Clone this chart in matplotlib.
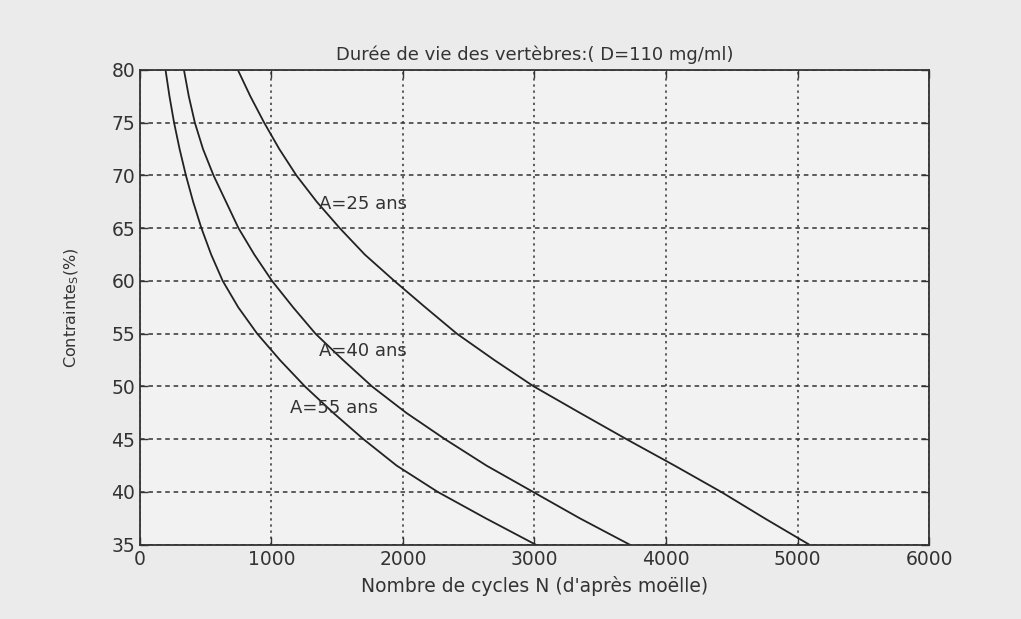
import matplotlib
matplotlib.use('Agg')
import matplotlib.pyplot as plt

plt.rcParams['font.family'] = ['DejaVu Sans']

# contrainte (%) levels read on the grid
stress = [80, 77.5, 75, 72.5, 70, 67.5, 65, 62.5, 60, 57.5, 55,
          52.5, 50, 47.5, 45, 42.5, 40, 37.5, 35]

# number of cycles for each age
n_25 = [745, 840, 945, 1060, 1190, 1345, 1520, 1710, 1935, 2170, 2410,
        2695, 2995, 3345, 3700, 4065, 4420, 4750, 5090]
n_40 = [335, 372, 418, 480, 560, 655, 750, 870, 1005, 1165, 1335,
        1545, 1765, 2025, 2320, 2635, 2990, 3345, 3725]
n_55 = [195, 225, 260, 302, 350, 405, 468, 542, 630, 748, 892,
        1065, 1255, 1470, 1700, 1952, 2265, 2630, 3010]

labels = ['A=25 ans', 'A=40 ans', 'A=55 ans']
label_pos = [(1360, 67.3), (1360, 53.4), (1140, 48.0)]

txt_col = '#333333'

fig = plt.figure(figsize=(10.21, 6.19), dpi=100, facecolor='#ebebeb')
ax = fig.add_axes([0.137, 0.12, 0.773, 0.767])
ax.set_facecolor('#f2f2f2')

for n in (n_25, n_40, n_55):
    ax.plot(n, stress, color='#222222', lw=1.3)

for txt, (x, y) in zip(labels, label_pos):
    ax.text(x, y, txt, fontsize=13, color=txt_col, va='center', ha='left')

ax.set_xlim(0, 6000)
ax.set_ylim(35, 80)
ax.set_xticks(range(0, 6001, 1000))
ax.set_yticks(range(35, 81, 5))
ax.tick_params(direction='in', labelsize=13.5, colors=txt_col, length=6,
               top=True, right=True, width=1.0)
ax.xaxis.grid(True, color='#333333', linestyle=(0, (1.5, 2.5)), linewidth=1.1)
ax.yaxis.grid(True, color='#333333', linestyle=(0, (3, 2.5)), linewidth=1.1)
for s in ax.spines.values():
    s.set_color('#333333')
    s.set_linewidth(1.3)

ax.set_title('Durée de vie des vertèbres:( D=110 mg/ml)', fontsize=13, color=txt_col, pad=7)
ax.set_xlabel("Nombre de cycles N (d'après moëlle)", fontsize=13.5, color=txt_col, labelpad=5)
ax.set_ylabel(r'Contrainte$_{\mathrm{S}}$(%)', fontsize=11.5, color=txt_col, labelpad=22)

fig.savefig('out.png', dpi=100, facecolor=fig.get_facecolor())
